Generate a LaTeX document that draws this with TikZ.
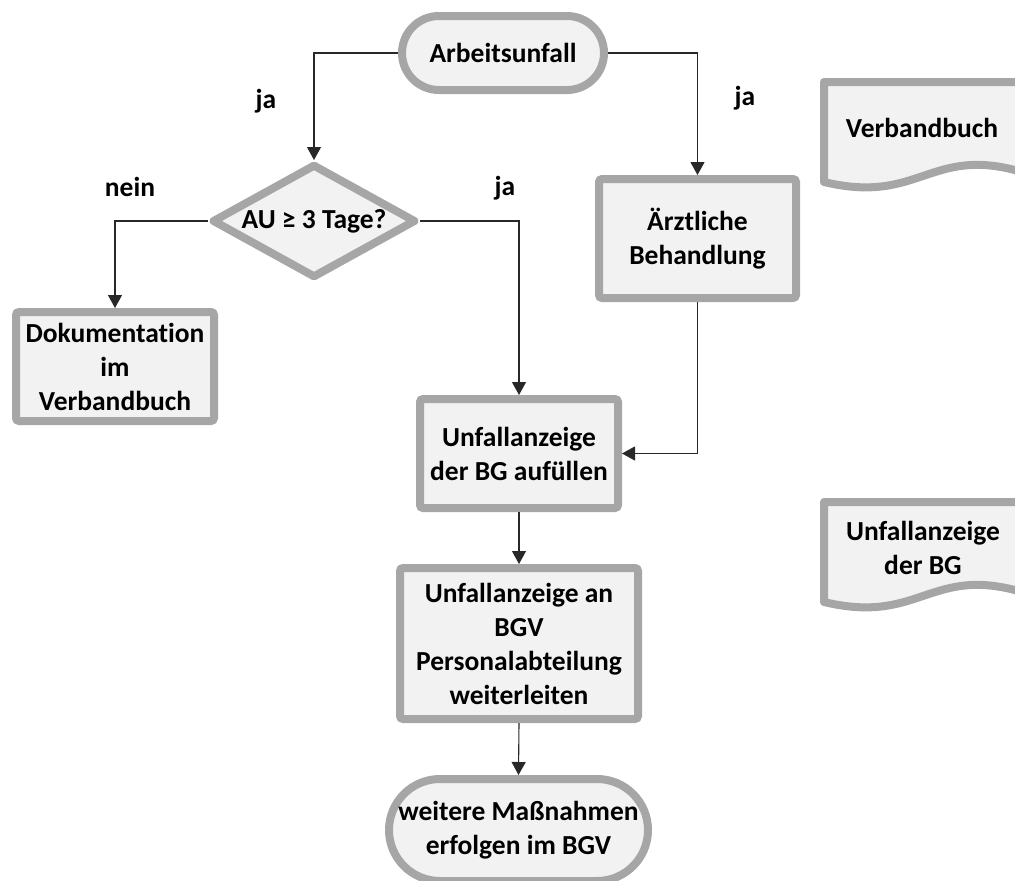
\documentclass[tikz,border=0pt]{standalone}
\usepackage{fontspec}
\setmainfont{Carlito}[Ligatures=NoCommon]
\usetikzlibrary{shapes.geometric,shapes.misc,arrows.meta}
\definecolor{boxgray}{RGB}{166,166,166}
\definecolor{boxfill}{RGB}{242,242,242}
\definecolor{linegray}{RGB}{40,40,40}

\begin{document}
\begin{tikzpicture}[x=1pt, y=-1pt, font=\fontsize{27.5}{34}\selectfont\bfseries,
    >={Triangle[width=14pt,length=13pt]}]

    \tikzstyle{proc}=[rectangle, draw=boxgray, fill=boxfill, line width=8pt, rounded corners=3pt, align=center, inner sep=0pt];
    \tikzstyle{term}=[rounded rectangle, draw=boxgray, fill=boxfill, line width=8pt, align=center, inner sep=0pt];
    \tikzstyle{docu}=[draw=boxgray, fill=boxfill, line width=8pt, line join=round];
    \tikzstyle{conn}=[draw=linegray, line width=1.1pt];

    \useasboundingbox (0,0) rectangle (1015,881);

    \node[term, minimum width=202, minimum height=74] (start) at (503,53) {Arbeitsunfall};
    \node[diamond, draw=boxgray, fill=boxfill, line width=8pt, line join=round, inner sep=0pt,
          minimum width=204, minimum height=114, label=center:{AU ≥ 3 Tage?}] (au) at (314,221) {};
    \node[proc, minimum width=197, minimum height=119] (aerzt) at (697.5,238.5) {Ärztliche\\Behandlung};
    \node[proc, minimum width=198, minimum height=109] (doku) at (115,366.5) {Dokumentation\\im\\Verbandbuch};
    \node[proc, minimum width=198, minimum height=109] (bg) at (519,453.5) {Unfallanzeige\\der BG aufüllen};
    \node[proc, minimum width=238, minimum height=151] (bgv) at (519,643.5) {Unfallanzeige an\\BGV\\Personalabteilung\\weiterleiten};
    \node[term, minimum width=259, minimum height=102] (ende) at (518.5,830) {weitere Maßnahmen\\erfolgen im BGV};

    % Dokumente rechts
    \draw[docu] (824,82) -- (1022,82) -- (1022,172) .. controls (930,145) and (920,205) .. (824,182) -- cycle;
    \node (vb) at (922,128) {Verbandbuch};
    \draw[docu] (824,502) -- (1022,502) -- (1022,592) .. controls (930,565) and (920,625) .. (824,602) -- cycle;
    \node[align=center] (ua) at (923,548) {Unfallanzeige\\der BG};

    % Verbindungen
    \draw[conn, ->] (start.west) -| (au.north);
    \draw[conn, ->] (start.east) -| (aerzt.north);
    \draw[conn, ->] (au.west) -| (doku.north);
    \draw[conn, ->] (au.east) -| (bg.north);
    \draw[conn, ->] (aerzt.south) |- (bg.east);
    \draw[conn, ->] (bg.south) -- (bgv.north);
    \draw[conn, ->] (bgv.south) -- (ende.north);

    \node (ja1) at (266,101) {ja};
    \node (ja2) at (745,98) {ja};
    \node (nein) at (130,187) {nein};
    \node (ja3) at (505,188) {ja};
\end{tikzpicture}
\end{document}
